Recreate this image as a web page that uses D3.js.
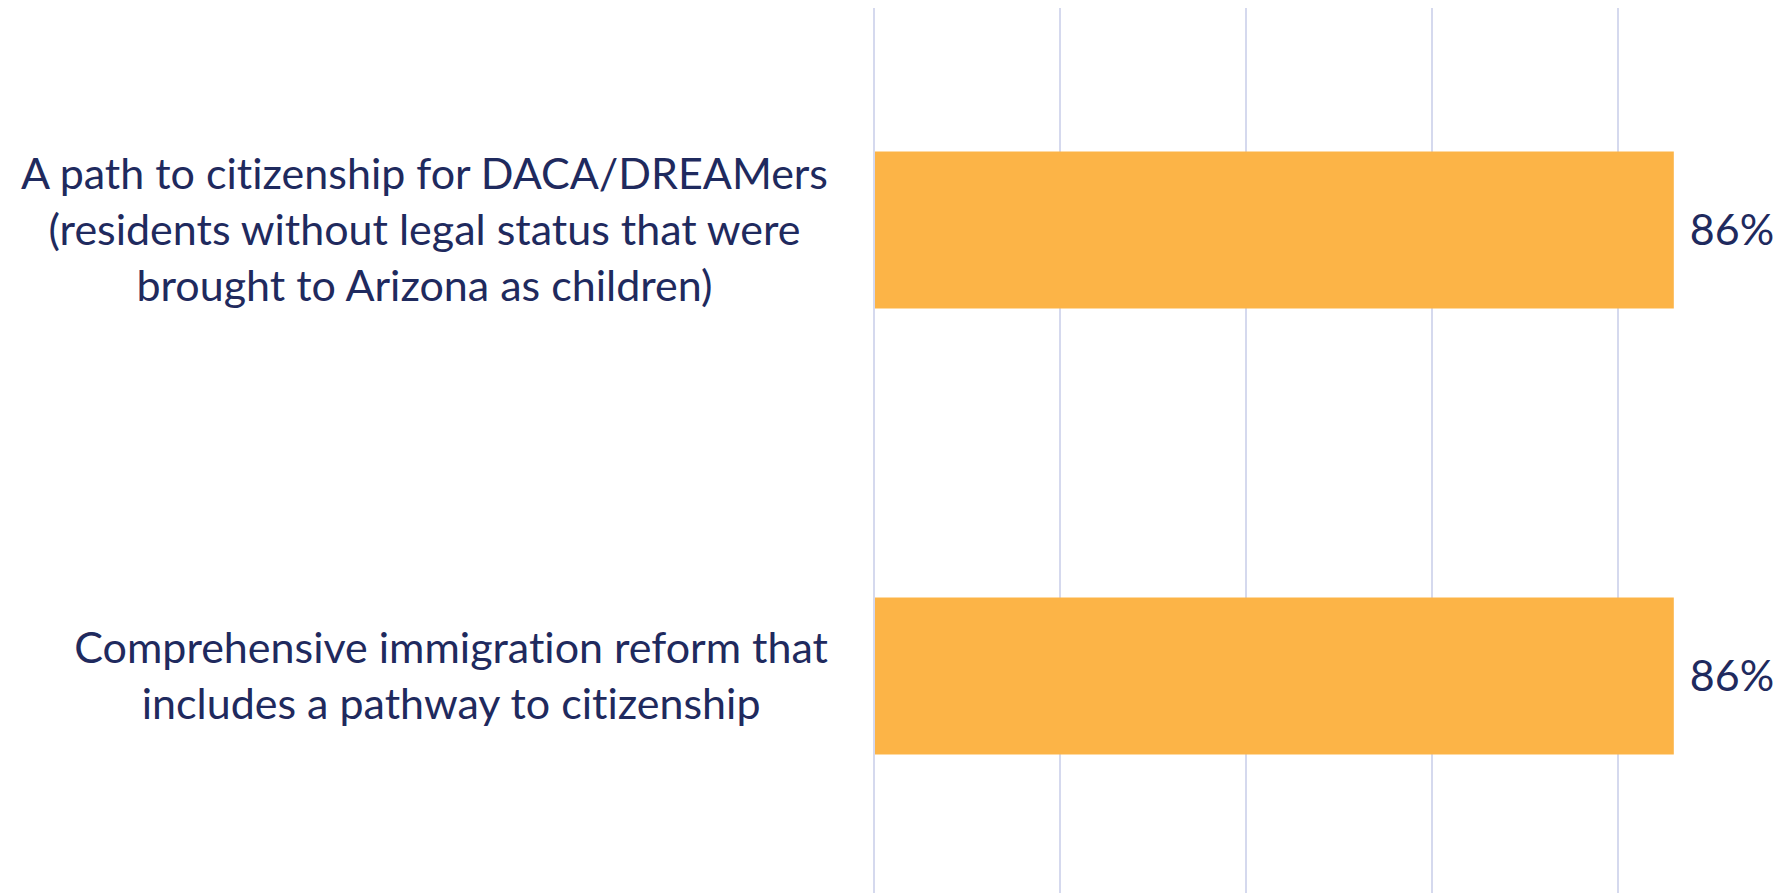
<!DOCTYPE html>
<html lang="en">
<head>
    <meta charset="UTF-8">
    <title>Support for pathway to citizenship</title>
    <style>
        body, html {
            margin: 0;
            padding: 0;
            background: #ffffff;
            overflow: hidden;
        }

        svg {
            display: block;
        }

        .grid line {
            stroke: #d5d9ee;
            stroke-width: 2px;
        }

        .bar {
            fill: #fcb447;
        }

        .cat-label, .value-label {
            font-family: 'Lato', sans-serif;
            font-size: 43px;
            font-variant-ligatures: none;
            fill: #1f2a5e;
        }
    </style>
</head>
<body>
    <svg width="1786" height="893"></svg>

    <script src="https://d3js.org/d3.v7.min.js"></script>
    <script>
        // chart data
        const categories = [
            ["A path to citizenship for DACA/DREAMers", "(residents without legal status that were", "brought to Arizona as children)"],
            ["Comprehensive immigration reform that", "includes a pathway to citizenship"]
        ];
        const values = [0.86, 0.86];
        const gridTicks = [0, 0.2, 0.4, 0.6, 0.8, 1.0];

        const width = 1786;
        const height = 893;
        const svg = d3.select("svg");

        const x = d3.scaleLinear()
            .domain([0, 1])
            .range([874, 874 + 5 * 186]);

        const y = d3.scaleBand()
            .domain(d3.range(categories.length))
            .range([7, 899])
            .paddingInner(0.648)
            .paddingOuter(0.324);

        // vertical gridlines
        svg.append("g")
            .attr("class", "grid")
            .selectAll("line")
            .data(gridTicks)
            .enter()
            .append("line")
            .attr("x1", d => x(d))
            .attr("x2", d => x(d))
            .attr("y1", 8)
            .attr("y2", height);

        // bars
        svg.selectAll(".bar")
            .data(values)
            .enter()
            .append("rect")
            .attr("class", "bar")
            .attr("x", x(0) + 1)
            .attr("y", (d, i) => y(i))
            .attr("width", d => x(d) - x(0) - 1)
            .attr("height", y.bandwidth());

        // value labels
        svg.selectAll(".value-label")
            .data(values)
            .enter()
            .append("text")
            .attr("class", "value-label")
            .attr("x", d => x(d) + 16)
            .attr("y", (d, i) => y(i) + y.bandwidth() / 2)
            .attr("dy", "0.35em")
            .text(d => d3.format(".0%")(d));

        // category labels: lines centred, block right-aligned to the axis
        const lineHeight = 56;
        const labelRight = x(0) - 46;

        categories.forEach((lines, i) => {
            const cy = y(i) + y.bandwidth() / 2;
            const g = svg.append("g");
            const texts = g.selectAll("text")
                .data(lines)
                .enter()
                .append("text")
                .attr("class", "cat-label")
                .attr("text-anchor", "middle")
                .attr("y", (d, j) => cy + (j - (lines.length - 1) / 2) * lineHeight)
                .attr("dy", "0.35em")
                .text(d => d);
            const maxW = d3.max(texts.nodes(), n => n.getComputedTextLength());
            texts.attr("x", labelRight - maxW / 2);
        });
    </script>
</body>
</html>
